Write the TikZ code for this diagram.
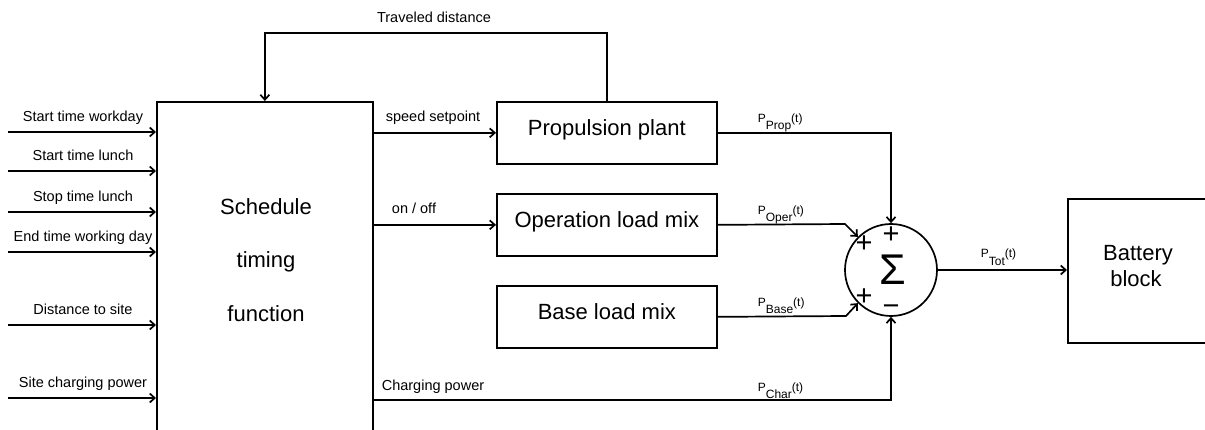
\documentclass[tikz,border=0pt]{standalone}
\usepackage{fontspec}
\setmainfont{Liberation Sans}
\usetikzlibrary{arrows.meta}
\newcommand\Psub[2][7pt]{P\raisebox{-#1}{#2}(t)}
\begin{document}
\begin{tikzpicture}[x=1pt,y=-1pt,
  line width=1.7pt,
  arr/.style={-{Straight Barb[length=5pt,width=9pt]}},
  blk/.style={draw, rectangle, inner sep=0pt, anchor=north west},
  lbl/.style={font=\fontsize{14.5}{16}\selectfont, inner sep=0pt, anchor=base},
  big/.style={font=\fontsize{22}{26}\selectfont, inner sep=0pt, text height=0.75em, text depth=0.25em},
  bigt/.style={font=\fontsize{22}{26}\selectfont, inner sep=0pt, anchor=base},
  plbl/.style={font=\fontsize{12}{13}\selectfont, inner sep=0pt, anchor=base west},
  sgn/.style={font=\fontsize{29}{30}\selectfont, inner sep=0pt},
]
\clip (0,0) rectangle (1205,430);
% blocks
\node[blk, minimum width=216pt, minimum height=345pt] (sched) at (156,101) {};
\node[bigt] (s1) at (266,215) {Schedule};
\node[bigt] (s2) at (266,268) {timing};
\node[bigt] (s3) at (266,322) {function};
\node[blk, big, minimum width=220pt, minimum height=62pt] (prop) at (496,101) {Propulsion plant};
\node[blk, big, minimum width=220pt, minimum height=62pt] (oper) at (496,193) {Operation load mix};
\node[blk, big, minimum width=220pt, minimum height=62pt] (base) at (496,285) {Base load mix};
\node[draw, circle, minimum size=92pt, inner sep=0pt] (sum) at (891,270) {};
\node[font=\fontsize{43}{46}\selectfont, inner sep=0pt] (sig) at (893,270) {Σ};
\node[sgn] (p1) at (891,235) {+};
\node[sgn] (p2) at (864,244) {+};
\node[sgn] (p3) at (864,297) {+};
\node[sgn] (m1) at (891,307) {\vphantom{+}−};
\node[blk, minimum width=200pt, minimum height=144pt] (batt) at (1067,198) {};
\node[bigt] (b1) at (1138,261) {Battery};
\node[bigt] (b2) at (1136,287) {block};
% inputs
\foreach \n/\y/\t in {i1/132/Start time workday, i2/171/Start time lunch, i3/212/Stop time lunch, i4/252/End time working day, i5/325/Distance to site, i6/398/Site charging power}{
  \coordinate (\n) at (8,\y);
  \draw[arr] (\n) -- (\n -| sched.west);
  \node[lbl] (\n l) at (83,\y-10) {\t};
}
% feedback
\coordinate (fb) at (0,33);
\draw[arr] (prop.north) -- (prop.north |- fb) -| (sched.north);
\node[lbl] (fbl) at (434,23) {Traveled distance};
% schedule outputs
\draw[arr] (prop.west -| sched.east) -- (prop.west);
\node[lbl] (spl) at (433,122) {speed setpoint};
\draw[arr] (oper.west -| sched.east) -- (oper.west);
\node[lbl] (onl) at (414,214) {on / off};
\coordinate (ch) at (0,400);
\draw[arr] (sched.east |- ch) -| (sum.south);
\node[lbl] (chl) at (433,390) {Charging power};
% into sum
\draw[arr] (prop.east) -| (sum.north);
\draw[arr] (oper.east) -- (845,224) -- (sum.135);
\draw[arr] (base.east) -- (846,316) -- (sum.225);
\draw[arr] (sum.east) -- (sum.east -| batt.west);
% P labels
\node[plbl] (pp) at (757,123) {\Psub{Prop}};
\node[plbl] (po) at (757,215) {\Psub{Oper}};
\node[plbl] (pb) at (757,307) {\Psub{Base}};
\node[plbl] (pc) at (757,391) {\Psub{Char}};
\node[plbl] (pt) at (980,258) {\Psub[8pt]{Tot}};
\end{tikzpicture}
\end{document}
